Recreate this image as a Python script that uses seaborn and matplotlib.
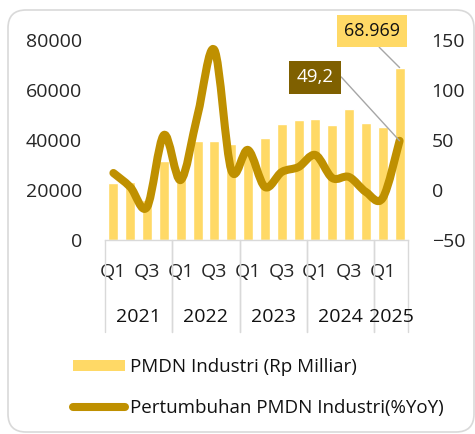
import numpy as np
import pandas as pd
import seaborn as sns
import matplotlib.pyplot as plt
import matplotlib.patches as patches
from matplotlib.path import Path
from matplotlib.lines import Line2D
from matplotlib.transforms import blended_transform_factory

# ----------------------------------------------------------
# Data
# ----------------------------------------------------------
years = ["2021"] * 4 + ["2022"] * 4 + ["2023"] * 4 + ["2024"] * 4 + ["2025"] * 2
quarters = ["Q1", "Q2", "Q3", "Q4"] * 4 + ["Q1", "Q2"]
pmdn = [22900, 23100, 16000, 31700, 25200, 39500, 39600, 38500, 35300,
        40900, 46400, 48000, 48500, 46100, 52400, 46800, 45200, 68969]
growth = [17, 3, -17, 55, 10, 75, 140, 20, 40,
          3, 18, 23, 35, 12, 13, -2, -8, 49.2]

bar_label = "PMDN Industri (Rp Milliar)"
line_label = "Pertumbuhan PMDN Industri(%YoY)"

BAR_COLOR = "#FFD966"
LINE_COLOR = "#BF9000"
DARK_BOX = "#7F6000"
GRID_GRAY = "#D9D9D9"

df = pd.DataFrame({"period": [f"{y} {q}" for y, q in zip(years, quarters)],
                   "year": years, "quarter": quarters,
                   "pmdn": pmdn, "growth": growth})


def smooth_path(xs, ys):
    """Excel-like smoothed line: Catmull-Rom segments as cubic Beziers."""
    pts = np.column_stack([xs, ys]).astype(float)
    n = len(pts)
    verts = [pts[0]]
    codes = [Path.MOVETO]
    for i in range(n - 1):
        p0 = pts[max(i - 1, 0)]
        p1 = pts[i]
        p2 = pts[i + 1]
        p3 = pts[min(i + 2, n - 1)]
        c1 = p1 + (p2 - p0) / 6.0
        c2 = p2 - (p3 - p1) / 6.0
        verts += [c1, c2, p2]
        codes += [Path.CURVE4] * 3
    return Path(verts, codes)


# ----------------------------------------------------------
# Figure
# ----------------------------------------------------------
sns.set_theme(style="white")
plt.rcParams["font.family"] = ["Open Sans", "DejaVu Sans"]
plt.rcParams["text.color"] = "#111111"

fig = plt.figure(figsize=(4.75, 4.34), dpi=100)
ax = fig.add_axes([105 / 475, 1 - 240 / 434, 303 / 475, 200 / 434])

sns.barplot(data=df, x="period", y="pmdn", color=BAR_COLOR, saturation=1,
            width=0.6, ax=ax, zorder=1)

ax.set_ylim(0, 80000)
ax.set_yticks(range(0, 80001, 20000))
ax.set_xlim(-0.5, len(df) - 0.5)
ax.set_xlabel("")
ax.set_ylabel("")
for s in ["top", "left", "right"]:
    ax.spines[s].set_visible(False)
ax.spines["bottom"].set_color(GRID_GRAY)
ax.spines["bottom"].set_linewidth(1.0)

# quarter labels (every other one, as Excel skips them)
q_pos = list(range(0, len(df), 2))
ax.set_xticks(q_pos)
ax.set_xticklabels([df["quarter"][i] for i in q_pos])
ax.tick_params(axis="x", length=0, pad=16.5, labelsize=14)
ax.tick_params(axis="y", length=0, pad=16.5, labelsize=14)

# year group labels and separators
trans = blended_transform_factory(ax.transData, ax.transAxes)
groups = df.groupby("year", sort=False).indices
for yr, idx in groups.items():
    lo, hi = idx.min() - 0.5, idx.max() + 0.5
    ax.text((lo + hi) / 2, -0.385, yr, transform=trans, ha="center",
            va="center", fontsize=14)
    for xb in (lo, hi):
        ax.plot([xb, xb], [0, -0.46], transform=trans, color=GRID_GRAY,
                lw=1.0, clip_on=False)

# growth line on secondary axis
ax2 = ax.twinx()
ax2.set_ylim(-50, 150)
ax2.set_yticks(range(-50, 151, 50))
for s in ["top", "left", "right", "bottom"]:
    ax2.spines[s].set_visible(False)
ax2.tick_params(axis="y", length=0, pad=17, labelsize=14)
ax2.grid(False)
ax.grid(False)

line = patches.PathPatch(smooth_path(np.arange(len(df)), df["growth"]),
                         fill=False, edgecolor=LINE_COLOR, lw=5.8,
                         capstyle="round", joinstyle="round", zorder=3)
ax2.add_patch(line)

# data labels on the last quarter
last = len(df) - 1
ax.annotate(f"{pmdn[-1]:,}".replace(",", "."), xy=(last, pmdn[-1]),
            xytext=(15.36, 83600), ha="center", va="center", fontsize=13,
            bbox=dict(boxstyle="square,pad=0.4", fc=BAR_COLOR, ec="none"),
            arrowprops=dict(arrowstyle="-", color="#A6A6A6", lw=1,
                            relpos=(0.5, 0), shrinkA=0, shrinkB=0),
            annotation_clip=False, zorder=5)
ax2.annotate(f"{growth[-1]}".replace(".", ","), xy=(last, growth[-1]),
             xytext=(11.96, 113), ha="center", va="center", fontsize=13.5,
             color="white",
             bbox=dict(boxstyle="square,pad=0.4", fc=DARK_BOX, ec="none"),
             arrowprops=dict(arrowstyle="-", color="#A6A6A6", lw=1,
                             relpos=(1, 0.5), shrinkA=0, shrinkB=0,
                             connectionstyle="arc,angleA=0,armA=8,angleB=0,armB=0,rad=0"),
             annotation_clip=False, zorder=5)

# legend
handles = [patches.Patch(facecolor=BAR_COLOR, edgecolor="none"),
           Line2D([], [], color=LINE_COLOR, lw=5.8, solid_capstyle="round")]
fig.legend(handles, [bar_label, line_label], loc="upper left",
           bbox_to_anchor=(73 / 475, 1 - 358 / 434), frameon=False,
           fontsize=13.5, handlelength=2.75, handleheight=0.5,
           handletextpad=0.3, labelspacing=1.2, borderpad=0,
           borderaxespad=0)

# rounded outer frame
frame = patches.FancyBboxPatch((8, 2), 466, 422,
                               boxstyle="round,pad=0,rounding_size=18",
                               transform=None, fill=False, ec=GRID_GRAY,
                               lw=1.2, zorder=0)
fig.patches.append(frame)

plt.savefig("out.png", dpi=100)
